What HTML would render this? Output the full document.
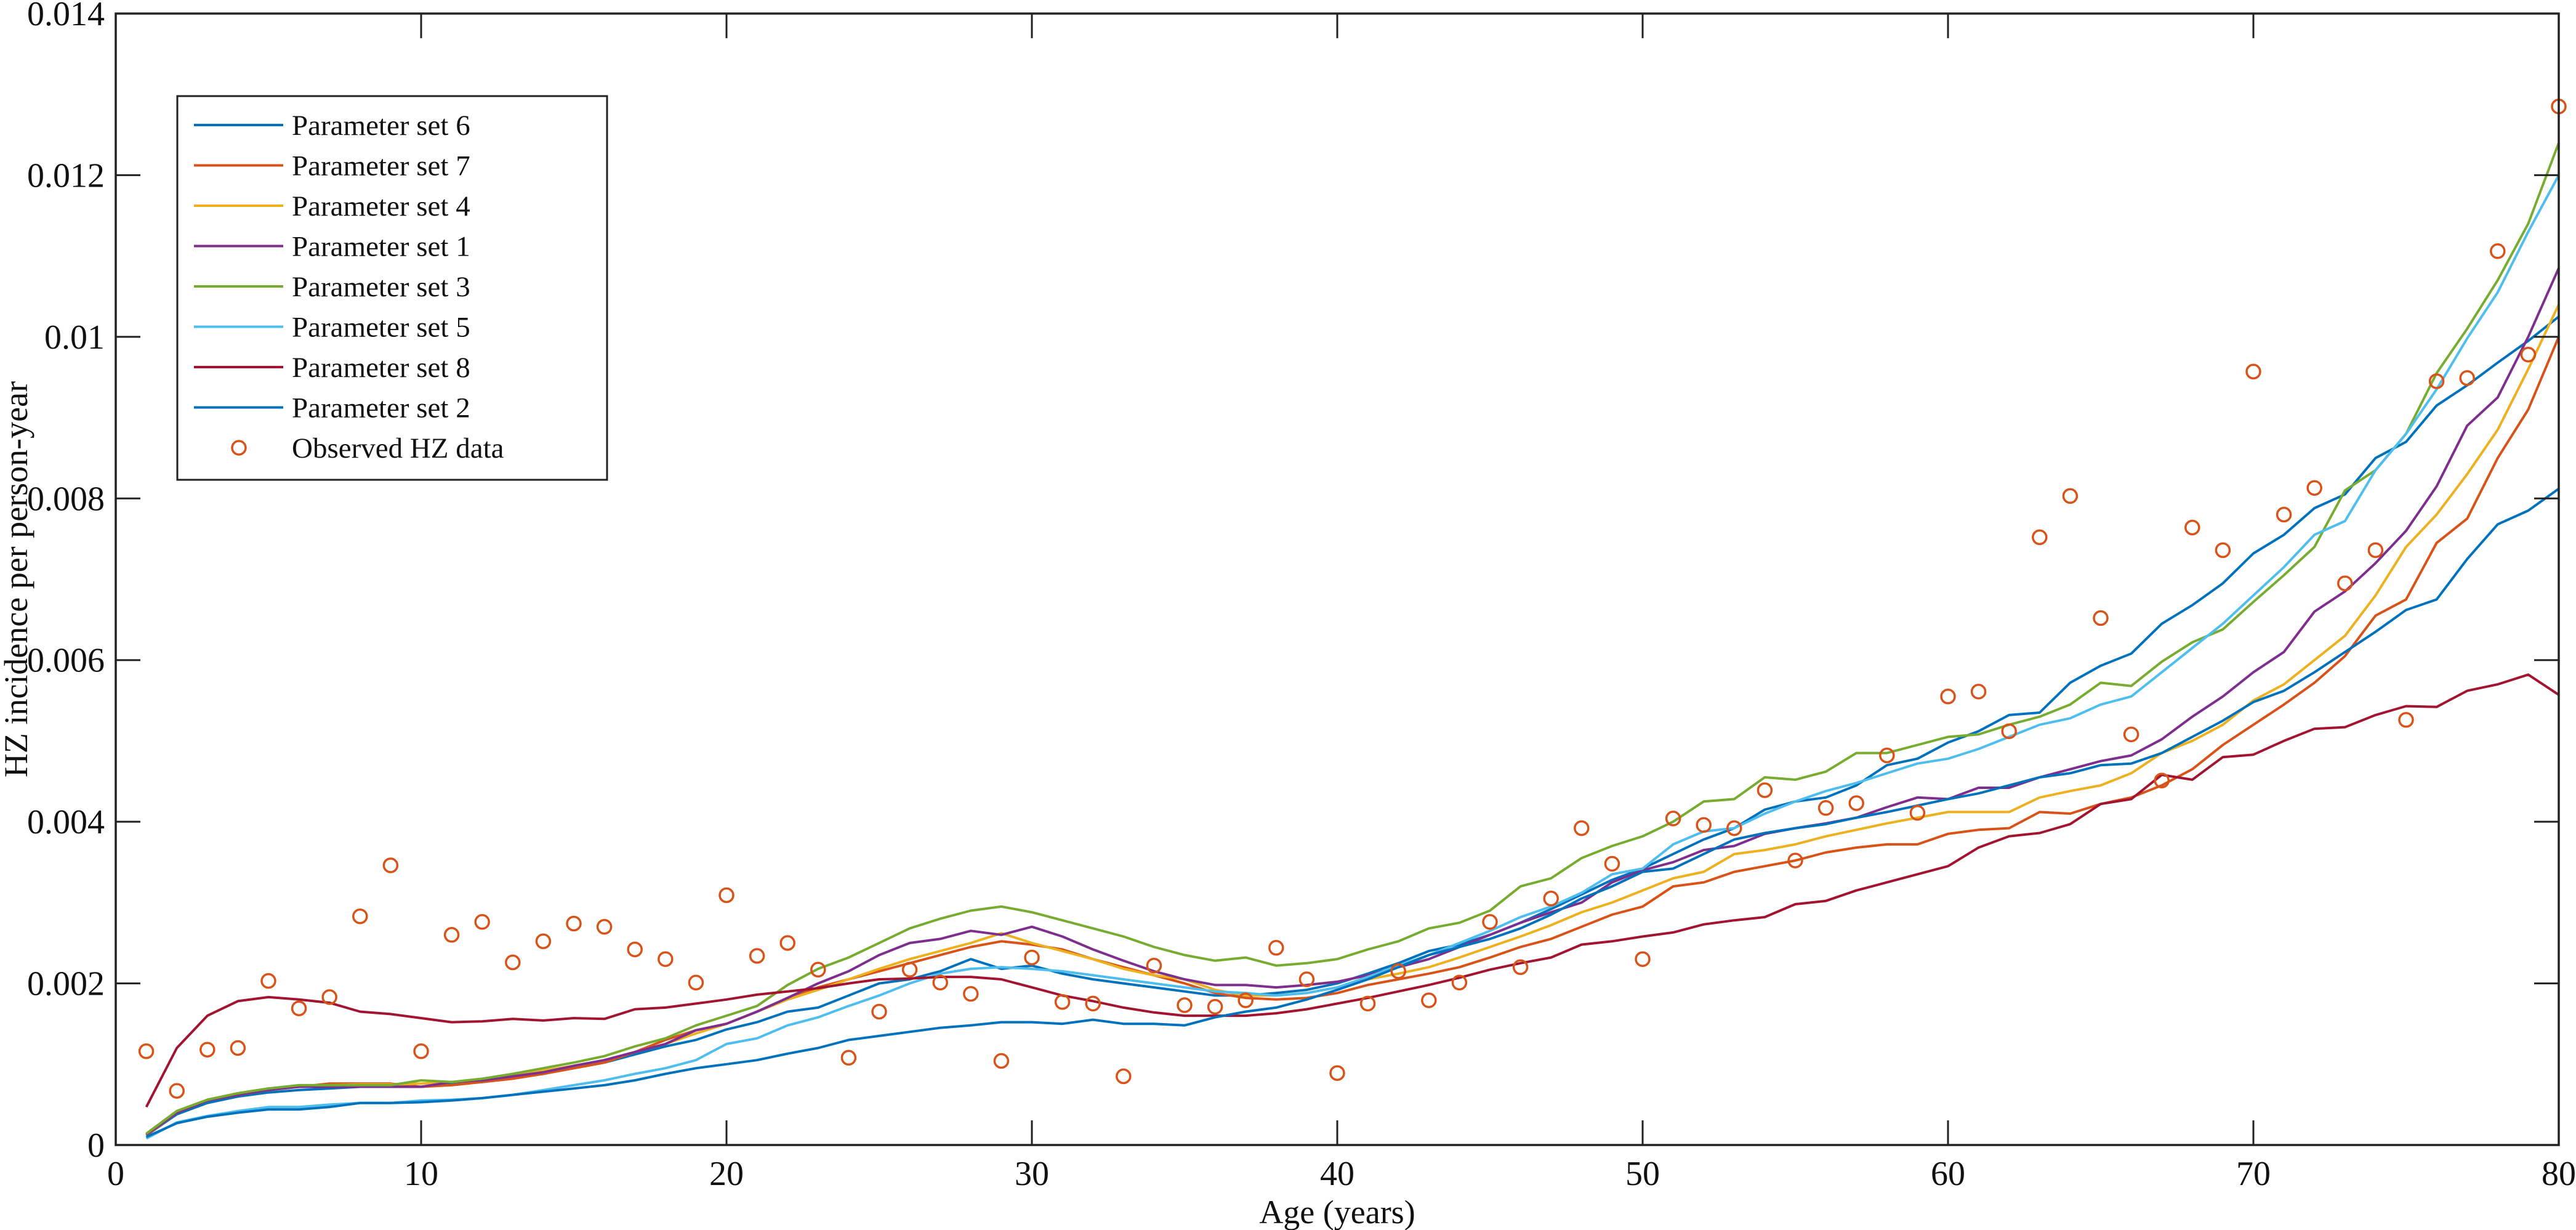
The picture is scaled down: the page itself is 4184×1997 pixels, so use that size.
<!DOCTYPE html>
<html><head><meta charset="utf-8">
<style>
html,body{margin:0;padding:0;background:#fff;}
svg{display:block;font-family:"Liberation Serif","Times New Roman",serif;}
</style></head>
<body>
<svg id="chart" width="4184" height="1997" viewBox="0 0 4184 1997" xmlns="http://www.w3.org/2000/svg">
<rect x="0" y="0" width="4184" height="1997" fill="#fff"/>
<g id="series"></g>
<g id="axes"></g>
<g id="legend"></g>
</svg>
<script>
const ages = [1,2,3,4,5,6,7,8,9,10,11,12,13,14,15,16,17,18,19,20,21,22,23,24,25,26,27,28,29,30,31,32,33,34,35,36,37,38,39,40,41,42,43,44,45,46,47,48,49,50,51,52,53,54,55,56,57,58,59,60,61,62,63,64,65,66,67,68,69,70,71,72,73,74,75,76,77,78,79,80];
// values in units of 0.001 per person-year
const set6 = [0.12,0.38,0.52,0.6,0.65,0.68,0.7,0.72,0.72,0.72,0.75,0.78,0.83,0.88,0.95,1.02,1.12,1.22,1.3,1.43,1.52,1.65,1.7,1.85,2.0,2.05,2.15,2.3,2.18,2.22,2.12,2.05,2.0,1.95,1.9,1.85,1.85,1.88,1.92,2.0,2.12,2.25,2.4,2.48,2.6,2.75,2.92,3.1,3.28,3.42,3.6,3.78,3.92,4.15,4.25,4.3,4.45,4.7,4.78,4.98,5.12,5.32,5.35,5.72,5.93,6.08,6.45,6.68,6.95,7.32,7.55,7.88,8.05,8.5,8.7,9.15,9.4,9.68,9.95,10.25];
const set7 = [0.12,0.4,0.55,0.62,0.68,0.72,0.76,0.76,0.76,0.72,0.74,0.78,0.82,0.88,0.95,1.02,1.15,1.3,1.42,1.5,1.65,1.82,1.95,2.05,2.15,2.25,2.35,2.45,2.52,2.48,2.42,2.3,2.2,2.1,2.0,1.88,1.82,1.8,1.82,1.88,1.98,2.05,2.12,2.2,2.32,2.45,2.55,2.7,2.85,2.95,3.2,3.25,3.38,3.45,3.52,3.62,3.68,3.72,3.72,3.85,3.9,3.92,4.12,4.1,4.22,4.3,4.45,4.65,4.95,5.2,5.45,5.72,6.05,6.55,6.75,7.45,7.75,8.5,9.1,10.0];
const set4 = [0.14,0.42,0.56,0.64,0.7,0.72,0.74,0.75,0.75,0.76,0.78,0.8,0.86,0.92,0.98,1.05,1.15,1.25,1.38,1.5,1.65,1.8,1.92,2.05,2.18,2.3,2.4,2.5,2.62,2.5,2.4,2.3,2.18,2.1,2.05,1.92,1.85,1.85,1.88,1.95,2.05,2.12,2.2,2.32,2.45,2.58,2.72,2.88,3.0,3.15,3.3,3.38,3.6,3.65,3.72,3.82,3.9,3.98,4.05,4.12,4.12,4.12,4.3,4.38,4.45,4.6,4.85,5.0,5.2,5.5,5.7,6.0,6.3,6.8,7.4,7.8,8.3,8.85,9.6,10.4];
const set1 = [0.13,0.4,0.55,0.62,0.68,0.72,0.72,0.72,0.72,0.72,0.78,0.8,0.85,0.9,0.98,1.05,1.15,1.25,1.42,1.5,1.65,1.82,2.0,2.15,2.35,2.5,2.55,2.65,2.6,2.7,2.58,2.42,2.28,2.15,2.05,1.98,1.98,1.95,1.98,2.02,2.1,2.2,2.3,2.45,2.6,2.75,2.88,3.0,3.25,3.4,3.5,3.65,3.7,3.85,3.92,3.98,4.05,4.18,4.3,4.28,4.42,4.42,4.55,4.65,4.75,4.82,5.02,5.3,5.55,5.85,6.1,6.6,6.85,7.2,7.6,8.15,8.9,9.25,10.0,10.85];
const set3 = [0.14,0.42,0.56,0.64,0.7,0.74,0.74,0.74,0.74,0.8,0.78,0.82,0.88,0.95,1.02,1.1,1.22,1.32,1.48,1.6,1.72,1.98,2.18,2.32,2.5,2.68,2.8,2.9,2.95,2.88,2.78,2.68,2.58,2.45,2.35,2.28,2.32,2.22,2.25,2.3,2.42,2.52,2.68,2.75,2.9,3.2,3.3,3.55,3.7,3.82,4.0,4.25,4.28,4.55,4.52,4.62,4.85,4.85,4.95,5.05,5.08,5.2,5.3,5.45,5.72,5.68,5.98,6.22,6.38,6.72,7.05,7.4,8.1,8.35,8.8,9.55,10.1,10.7,11.4,12.4];
const set5 = [0.08,0.28,0.36,0.42,0.47,0.47,0.5,0.52,0.52,0.55,0.56,0.58,0.62,0.68,0.74,0.8,0.88,0.95,1.05,1.25,1.32,1.48,1.58,1.72,1.85,2.0,2.12,2.18,2.2,2.18,2.15,2.1,2.05,2.0,1.95,1.9,1.88,1.85,1.88,1.95,2.08,2.22,2.35,2.5,2.65,2.82,2.95,3.12,3.35,3.42,3.72,3.88,3.92,4.1,4.25,4.38,4.48,4.6,4.72,4.78,4.9,5.05,5.2,5.28,5.45,5.55,5.85,6.15,6.45,6.8,7.15,7.55,7.72,8.35,8.8,9.35,9.98,10.55,11.3,12.0];
const set8 = [0.47,1.2,1.6,1.78,1.83,1.8,1.76,1.65,1.62,1.57,1.52,1.53,1.56,1.54,1.57,1.56,1.68,1.7,1.75,1.8,1.86,1.9,1.94,2.0,2.05,2.06,2.08,2.08,2.05,1.95,1.85,1.78,1.7,1.64,1.6,1.6,1.6,1.63,1.68,1.75,1.82,1.9,1.98,2.07,2.17,2.25,2.32,2.48,2.52,2.58,2.63,2.73,2.78,2.82,2.98,3.02,3.15,3.25,3.35,3.45,3.68,3.82,3.86,3.97,4.22,4.28,4.58,4.52,4.8,4.83,5.0,5.15,5.17,5.32,5.43,5.42,5.62,5.7,5.82,5.57];
const set2 = [0.1,0.27,0.35,0.4,0.44,0.44,0.47,0.52,0.52,0.53,0.55,0.58,0.62,0.66,0.7,0.74,0.8,0.88,0.95,1.0,1.05,1.13,1.2,1.3,1.35,1.4,1.45,1.48,1.52,1.52,1.5,1.55,1.5,1.5,1.48,1.58,1.65,1.7,1.8,1.92,2.05,2.2,2.35,2.45,2.55,2.68,2.85,3.05,3.2,3.38,3.42,3.6,3.78,3.86,3.92,3.97,4.05,4.12,4.2,4.28,4.35,4.45,4.55,4.6,4.7,4.72,4.85,5.05,5.25,5.48,5.62,5.85,6.1,6.35,6.62,6.75,7.25,7.68,7.85,8.12];
const observed = [1.16,0.67,1.18,1.2,2.03,1.69,1.83,2.83,3.46,1.16,2.6,2.76,2.26,2.52,2.74,2.7,2.42,2.3,2.01,3.09,2.34,2.5,2.17,1.08,1.65,2.17,2.01,1.87,1.04,2.32,1.77,1.75,0.85,2.22,1.73,1.71,1.79,2.44,2.05,0.89,1.75,2.15,1.79,2.01,2.76,2.2,3.05,3.92,3.48,2.3,4.04,3.96,3.92,4.39,3.52,4.17,4.23,4.82,4.11,5.55,5.61,5.12,7.52,8.03,6.52,5.08,4.51,7.64,7.36,9.57,7.8,8.13,6.95,7.36,5.26,9.45,9.49,11.06,9.78,12.85];
const seriesNames = ["Parameter set 6","Parameter set 7","Parameter set 4","Parameter set 1","Parameter set 3","Parameter set 5","Parameter set 8","Parameter set 2"];
const xTicks = [0,10,20,30,40,50,60,70,80];
const yTicks = [0,0.002,0.004,0.006,0.008,0.01,0.012,0.014];
const yTickLabels = ["0","0.002","0.004","0.006","0.008","0.01","0.012","0.014"];

const NS = "http://www.w3.org/2000/svg";
const L = 188, R = 4156, T = 22, B = 1859;
const xs = v => L + (v - 0) / 80 * (R - L);
const ys = v => B - v / 0.014 * (B - T);
const colors = ["#0072BD","#D95319","#EDB120","#7E2F8E","#77AC30","#4DBEEE","#A2142F","#0072BD"];
const allSeries = [set6,set7,set4,set1,set3,set5,set8,set2];
const keys = ["set-6","set-7","set-4","set-1","set-3","set-5","set-8","set-2"];

function mk(tag, attrs, parent){ const e=document.createElementNS(NS,tag); for(const k in attrs) e.setAttribute(k,attrs[k]); parent.appendChild(e); return e; }

const gS = document.getElementById('series');
allSeries.forEach((s,i)=>{
  const d = s.map((v,j)=>(j?'L':'M')+xs(ages[j]).toFixed(1)+' '+ys(v*0.001).toFixed(1)).join(' ');
  const p = mk('path',{d:d,fill:'none',stroke:colors[i],'stroke-width':4,'stroke-linejoin':'round'},gS);
  
  
});
observed.forEach((v,j)=>{
  const c = mk('circle',{cx:xs(ages[j]).toFixed(1),cy:ys(v*0.001).toFixed(1),r:11,fill:'none',stroke:'#D95319','stroke-width':3.5},gS);
  
  
});

const gA = document.getElementById('axes');
const frame = mk('rect',{x:L,y:T,width:R-L,height:B-T,fill:'none',stroke:'#222','stroke-width':3.5},gA);


xTicks.forEach(t=>{
  const x = xs(t);
  const tk = mk('path',{d:`M${x} ${B}V${B-40}M${x} ${T}V${T+40}`,stroke:'#222','stroke-width':3},gA);
  
  
  const lb = mk('text',{x:x,y:1924,'text-anchor':'middle','font-size':56,fill:'#111'},gA);
  lb.textContent = t;
  
  
});
yTicks.forEach((t,i)=>{
  const y = ys(t);
  const tk = mk('path',{d:`M${L} ${y}H${L+40}M${R} ${y}H${R-40}`,stroke:'#222','stroke-width':3},gA);
  
  
  const lb = mk('text',{x:170,y:y+19,'text-anchor':'end','font-size':56,fill:'#111'},gA);
  lb.textContent = yTickLabels[i];
  
  
});
const xt = mk('text',{x:(L+R)/2,y:1986,'text-anchor':'middle','font-size':54,fill:'#111'},gA);
xt.textContent = 'Age (years)';


const yt = mk('text',{x:0,y:0,'text-anchor':'middle','font-size':54,fill:'#111',transform:`translate(44 ${(T+B)/2}) rotate(-90)`},gA);
yt.textContent = 'HZ incidence per person-year';



const gL = document.getElementById('legend');


const ROW0 = 203, ROWH = 65.5;
const lbox = mk('rect',{x:288,y:156,width:698,height:623,fill:'#fff',stroke:'#222','stroke-width':3},gL);


seriesNames.forEach((n,i)=>{
  const y = ROW0 + i*ROWH;
  const ln = mk('line',{x1:315,x2:460,y1:y,y2:y,stroke:colors[i],'stroke-width':4},gL);
  
  
  const tx = mk('text',{x:474,y:y+16,'font-size':47,fill:'#111'},gL);
  tx.textContent = n;
  
  
});
{
  const y = ROW0 + 8*ROWH;
  const c = mk('circle',{cx:388,cy:y,r:11,fill:'none',stroke:'#D95319','stroke-width':3.5},gL);
  
  
  const tx = mk('text',{x:474,y:y+16,'font-size':47,fill:'#111'},gL);
  tx.textContent = 'Observed HZ data';
  
  
}
</script>
</body></html>
